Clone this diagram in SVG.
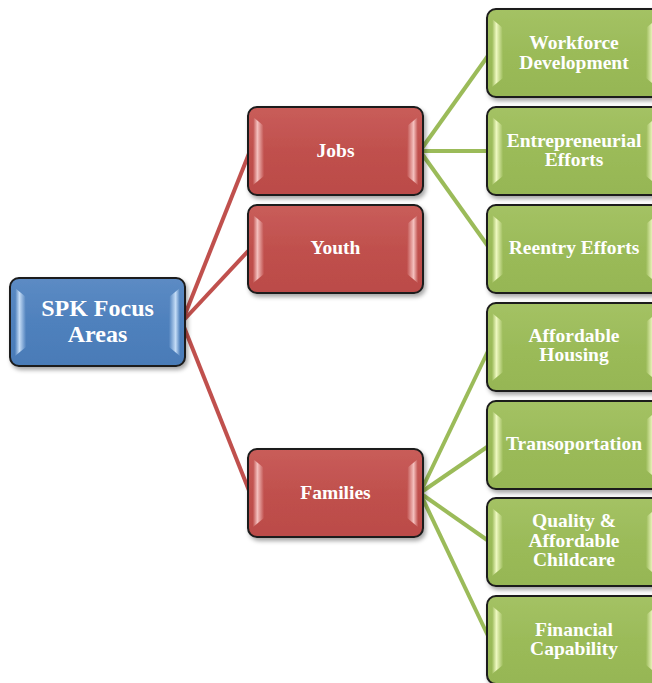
<svg xmlns="http://www.w3.org/2000/svg" width="652" height="683" viewBox="0 0 652 683">
<style>
.box{stroke:#1a1a1a;stroke-width:2;filter:url(#sh)}
.red{fill:url(#gRed)}
.blue{fill:url(#gBlue)}
.green{fill:url(#gGreen)}
.hl-red-l{fill:url(#hlRedL)}.hl-red-r{fill:url(#hlRedR)}
.hl-blue-l{fill:url(#hlBlueL)}.hl-blue-r{fill:url(#hlBlueR)}
.hl-green-l{fill:url(#hlGreenL)}.hl-green-r{fill:url(#hlGreenR)}
text{font-family:"Liberation Serif","Times New Roman",serif;font-weight:bold;fill:#ffffff;text-anchor:middle;font-size:19.5px}
.root{font-size:24px}
.cr{stroke:#c0504d;stroke-width:4;fill:none}
.cg{stroke:#9bbb59;stroke-width:4;fill:none}
</style>
<defs>
<filter id="sh" x="-10%" y="-10%" width="125%" height="130%">
<feDropShadow dx="2" dy="3" stdDeviation="2" flood-color="#000" flood-opacity="0.35"/>
</filter>
<linearGradient id="gRed" x1="0" y1="0" x2="0" y2="1"><stop offset="0" stop-color="#c95d5a"/><stop offset="0.5" stop-color="#c0504d"/><stop offset="1" stop-color="#bb4b48"/></linearGradient>
<linearGradient id="gBlue" x1="0" y1="0" x2="0" y2="1"><stop offset="0" stop-color="#5c8bc4"/><stop offset="0.5" stop-color="#4f81bd"/><stop offset="1" stop-color="#4a7bb7"/></linearGradient>
<linearGradient id="gGreen" x1="0" y1="0" x2="0" y2="1"><stop offset="0" stop-color="#a4c264"/><stop offset="0.5" stop-color="#9bbb59"/><stop offset="1" stop-color="#96b654"/></linearGradient>
<linearGradient id="hlRedL" x1="0" y1="0" x2="1" y2="0"><stop offset="0" stop-color="#c0504d"/><stop offset="0.4" stop-color="#f4c0be"/><stop offset="1" stop-color="#c0504d"/></linearGradient>
<linearGradient id="hlRedR" x1="0" y1="0" x2="1" y2="0"><stop offset="0" stop-color="#c0504d"/><stop offset="0.6" stop-color="#f4c0be"/><stop offset="1" stop-color="#c0504d"/></linearGradient>
<linearGradient id="hlBlueL" x1="0" y1="0" x2="1" y2="0"><stop offset="0" stop-color="#4f81bd"/><stop offset="0.4" stop-color="#c4dcf6"/><stop offset="1" stop-color="#4f81bd"/></linearGradient>
<linearGradient id="hlBlueR" x1="0" y1="0" x2="1" y2="0"><stop offset="0" stop-color="#4f81bd"/><stop offset="0.6" stop-color="#c4dcf6"/><stop offset="1" stop-color="#4f81bd"/></linearGradient>
<linearGradient id="hlGreenL" x1="0" y1="0" x2="1" y2="0"><stop offset="0" stop-color="#9bbb59"/><stop offset="0.4" stop-color="#eef8c0"/><stop offset="1" stop-color="#9bbb59"/></linearGradient>
<linearGradient id="hlGreenR" x1="0" y1="0" x2="1" y2="0"><stop offset="0" stop-color="#9bbb59"/><stop offset="0.6" stop-color="#eef8c0"/><stop offset="1" stop-color="#9bbb59"/></linearGradient>
</defs>
<rect width="652" height="683" fill="#ffffff"/>
<g id="connectors">
<line class="cr" x1="182" y1="322" x2="250" y2="151"/>
<line class="cr" x1="182" y1="322" x2="250" y2="249"/>
<line class="cr" x1="182" y1="322" x2="250" y2="493"/>
<line class="cg" x1="420" y1="151" x2="490" y2="53"/>
<line class="cg" x1="420" y1="151" x2="490" y2="151"/>
<line class="cg" x1="420" y1="151" x2="490" y2="249"/>
<line class="cg" x1="420" y1="493" x2="490" y2="347"/>
<line class="cg" x1="420" y1="493" x2="490" y2="445"/>
<line class="cg" x1="420" y1="493" x2="490" y2="542"/>
<line class="cg" x1="420" y1="493" x2="490" y2="640"/>
</g>
<g id="root">
<rect class="box blue" x="10" y="278" width="175" height="88" rx="9"/>
<path class="hl-blue-l" d="M15 288 L26 297 L26 347 L15 356 Z"/>
<path class="hl-blue-r" d="M180 288 L169 297 L169 347 L180 356 Z"/>
<text class="root" x="97.5" y="316">SPK Focus</text>
<text class="root" x="97.5" y="342">Areas</text>
</g>
<g id="jobs">
<rect class="box red" x="248" y="107" width="175" height="88" rx="9"/>
<path class="hl-red-l" d="M253 117 L264 126 L264 176 L253 185 Z"/>
<path class="hl-red-r" d="M418 117 L407 126 L407 176 L418 185 Z"/>
<text x="335.5" y="157">Jobs</text>
</g>
<g id="youth">
<rect class="box red" x="248" y="205" width="175" height="88" rx="9"/>
<path class="hl-red-l" d="M253 215 L264 224 L264 274 L253 283 Z"/>
<path class="hl-red-r" d="M418 215 L407 224 L407 274 L418 283 Z"/>
<text x="335.5" y="254">Youth</text>
</g>
<g id="families">
<rect class="box red" x="248" y="449" width="175" height="88" rx="9"/>
<path class="hl-red-l" d="M253 459 L264 468 L264 518 L253 527 Z"/>
<path class="hl-red-r" d="M418 459 L407 468 L407 518 L418 527 Z"/>
<text x="335.5" y="499">Families</text>
</g>
<g id="workforce">
<rect class="box green" x="487" y="9" width="175" height="88" rx="9"/>
<path class="hl-green-l" d="M492 19 L503 28 L503 78 L492 87 Z"/>
<path class="hl-green-r" d="M657 19 L646 28 L646 78 L657 87 Z"/>
<text x="574" y="49">Workforce</text>
<text x="574" y="69">Development</text>
</g>
<g id="entrepreneurial">
<rect class="box green" x="487" y="107" width="175" height="88" rx="9"/>
<path class="hl-green-l" d="M492 117 L503 126 L503 176 L492 185 Z"/>
<path class="hl-green-r" d="M657 117 L646 126 L646 176 L657 185 Z"/>
<text x="574" y="147">Entrepreneurial</text>
<text x="574" y="166">Efforts</text>
</g>
<g id="reentry">
<rect class="box green" x="487" y="205" width="175" height="88" rx="9"/>
<path class="hl-green-l" d="M492 215 L503 224 L503 274 L492 283 Z"/>
<path class="hl-green-r" d="M657 215 L646 224 L646 274 L657 283 Z"/>
<text x="574" y="254">Reentry Efforts</text>
</g>
<g id="housing">
<rect class="box green" x="487" y="303" width="175" height="88" rx="9"/>
<path class="hl-green-l" d="M492 313 L503 322 L503 372 L492 381 Z"/>
<path class="hl-green-r" d="M657 313 L646 322 L646 372 L657 381 Z"/>
<text x="574" y="342">Affordable</text>
<text x="574" y="361">Housing</text>
</g>
<g id="transportation">
<rect class="box green" x="487" y="401" width="175" height="88" rx="9"/>
<path class="hl-green-l" d="M492 411 L503 420 L503 470 L492 479 Z"/>
<path class="hl-green-r" d="M657 411 L646 420 L646 470 L657 479 Z"/>
<text x="574" y="450">Transoportation</text>
</g>
<g id="childcare">
<rect class="box green" x="487" y="498" width="175" height="88" rx="9"/>
<path class="hl-green-l" d="M492 508 L503 517 L503 567 L492 576 Z"/>
<path class="hl-green-r" d="M657 508 L646 517 L646 567 L657 576 Z"/>
<text x="574" y="527">Quality &amp;</text>
<text x="574" y="547">Affordable</text>
<text x="574" y="566">Childcare</text>
</g>
<g id="financial">
<rect class="box green" x="487" y="596" width="175" height="88" rx="9"/>
<path class="hl-green-l" d="M492 606 L503 615 L503 665 L492 674 Z"/>
<path class="hl-green-r" d="M657 606 L646 615 L646 665 L657 674 Z"/>
<text x="574" y="636">Financial</text>
<text x="574" y="655">Capability</text>
</g>
</svg>
